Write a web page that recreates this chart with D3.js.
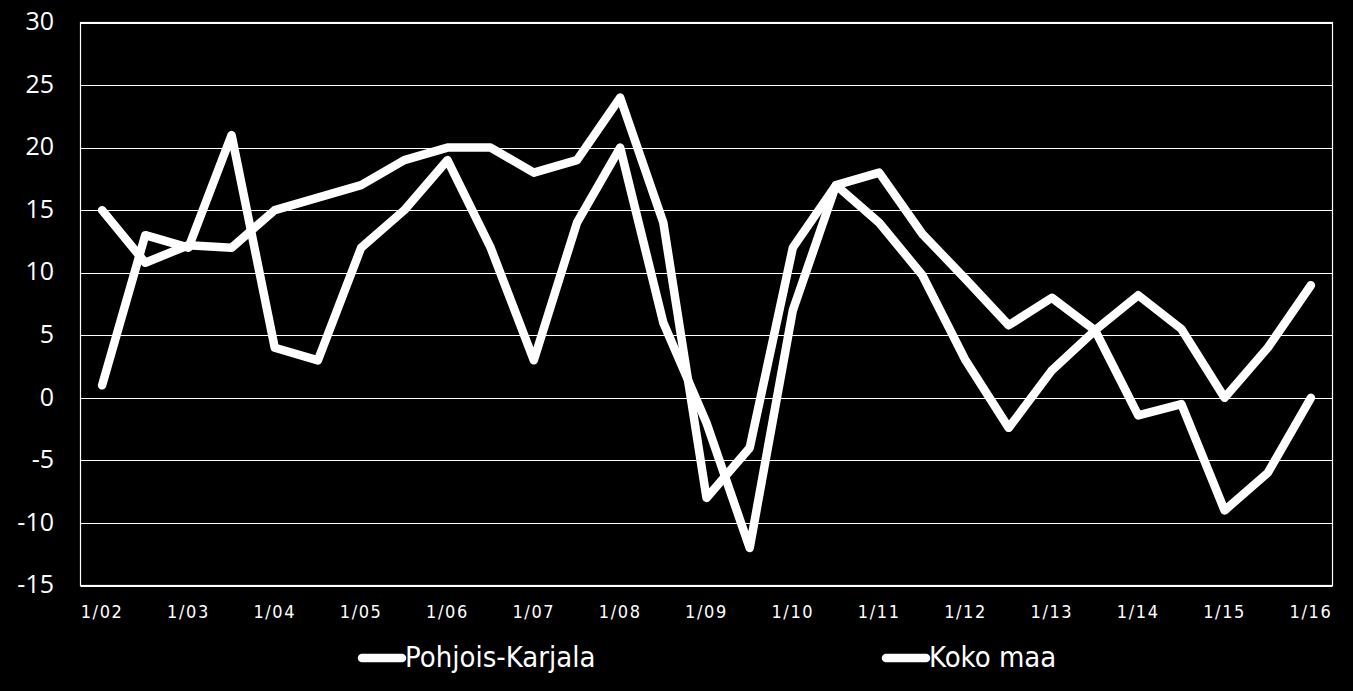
<!DOCTYPE html>
<html>
<head>
<meta charset="utf-8">
<script src="https://cdn.jsdelivr.net/npm/d3@7/dist/d3.min.js"></script>
<style>
  html, body { margin: 0; padding: 0; background: #000; }
  svg { display: block; }
</style>
</head>
<body>
<svg id="chart" width="1353" height="691"></svg>
<script>
const periods = ["1/02","7/02","1/03","7/03","1/04","7/04","1/05","7/05","1/06","7/06","1/07","7/07","1/08","7/08","1/09","7/09","1/10","7/10","1/11","7/11","1/12","7/12","1/13","7/13","1/14","7/14","1/15","7/15","1/16"];
const tickLabels = ["1/02","1/03","1/04","1/05","1/06","1/07","1/08","1/09","1/10","1/11","1/12","1/13","1/14","1/15","1/16"];
const yTicks = [30, 25, 20, 15, 10, 5, 0, -5, -10, -15];
const pohjoisKarjala = [1, 13, 12, 21, 4, 3, 12, 15, 19, 12, 3, 14, 20, 6, -2, -12, 7, 17, 14, 9.8, 3, -2.4, 2.2, 5.4, -1.4, -0.5, -9, -6, 0];
const kokoMaa = [15, 10.8, 12.2, 12, 15, 16, 17, 19, 20, 20, 18, 19, 24, 14, -8, -4, 12, 17, 18, 13.1, 9.5, 5.8, 8, 5.4, 8.2, 5.5, 0, 4, 9];
const seriesNames = ["Pohjois-Karjala", "Koko maa"];

const svg = d3.select("#chart");
const pLeft = 80.5, pRight = 1332.5, pTop = 22.5, pBottom = 585.5;

const x = d3.scaleBand().domain(periods).range([pLeft, pRight]);
const y = d3.scaleLinear().domain([-15, 30]).range([pBottom, pTop]);
const cx = d => x(d) + x.bandwidth() / 2;

// gridlines
svg.append("g").selectAll("line").data(yTicks).join("line")
  .attr("x1", pLeft).attr("x2", pRight)
  .attr("y1", d => Math.round(y(d)) + 0.5).attr("y2", d => Math.round(y(d)) + 0.5)
  .attr("stroke", "#fff").attr("stroke-width", 1.2);

// frame
svg.append("rect").attr("x", pLeft).attr("y", pTop)
  .attr("width", pRight - pLeft).attr("height", pBottom - pTop)
  .attr("fill", "none").attr("stroke", "#fff").attr("stroke-width", 1.2);

// y labels
svg.append("g").selectAll("text").data(yTicks).join("text")
  .attr("x", 54).attr("y", d => y(d) + 1)
  .attr("text-anchor", "end").attr("dominant-baseline", "middle")
  .attr("fill", "#fff").attr("font-family", "Open Sans, sans-serif").attr("font-size", 25)
  .text(d => d);

// x labels
svg.append("g").selectAll("text").data(tickLabels).join("text")
  .attr("x", d => cx(d)).attr("y", 613)
  .attr("text-anchor", "middle").attr("dominant-baseline", "middle")
  .attr("fill", "#fff").attr("font-family", "DejaVu Sans Condensed, sans-serif").attr("font-size", 18)
  .attr("letter-spacing", 1.6)
  .text(d => d);

// lines
const line = d3.line().x((d, i) => cx(periods[i])).y(d => y(d));
[pohjoisKarjala, kokoMaa].forEach(s => {
  svg.append("path").datum(s).attr("d", line)
    .attr("fill", "none").attr("stroke", "#fff").attr("stroke-width", 8.5)
    .attr("stroke-linejoin", "round").attr("stroke-linecap", "round");
});

// legend
const legendX = [358, 882];
const lg = svg.append("g").selectAll("g").data(seriesNames).join("g")
  .attr("transform", (d, i) => `translate(${legendX[i]},658)`);
lg.append("line").attr("x1", 4).attr("x2", 44).attr("y1", 0).attr("y2", 0)
  .attr("stroke", "#fff").attr("stroke-width", 8.5).attr("stroke-linecap", "round");
lg.append("text").attr("x", 47).attr("y", 1).attr("dominant-baseline", "middle")
  .attr("fill", "#fff").attr("font-family", "DejaVu Sans Condensed, sans-serif").attr("font-size", 29)
  .text(d => d);
</script>
</body>
</html>
